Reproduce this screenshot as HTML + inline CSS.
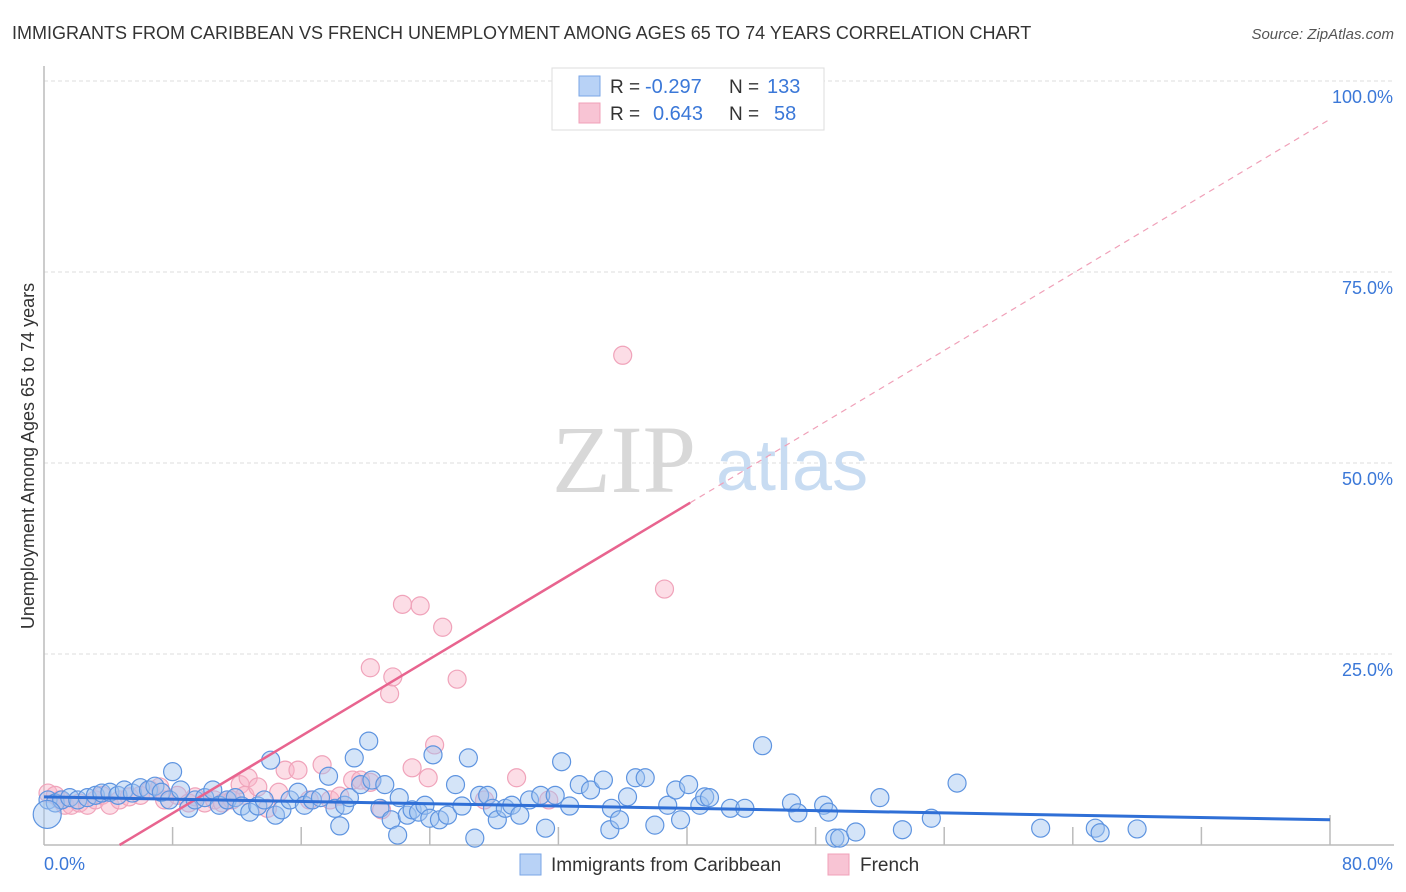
<!DOCTYPE html>
<html><head><meta charset="utf-8"><style>
body{margin:0;background:#fff;font-family:"Liberation Sans",sans-serif;}
#wrap{position:relative;width:1406px;height:892px;overflow:hidden;}
</style></head><body>
<div id="wrap">
<svg id="svg" width="1406" height="892" xmlns="http://www.w3.org/2000/svg"></svg>
</div>
<script>
const yTicks=[25,50,75,100];
const yTickLabels=["25.0%","50.0%","75.0%","100.0%"];
const xTickVals=[8,16,24,32,40,48,56,64,72,80];
const blueX=[0.25,0.7,1.1,1.6,2.1,2.7,3.2,3.6,4.1,4.6,5.0,5.5,6.0,6.5,6.9,7.3,7.8,8.0,8.5,9.0,9.4,10.0,10.5,10.9,11.4,11.9,12.3,12.8,13.3,13.7,14.1,14.4,14.8,15.3,15.8,16.2,16.7,17.2,17.7,18.1,18.4,18.7,19.0,19.3,19.7,20.2,20.4,20.9,21.2,21.6,22.0,22.1,22.6,22.9,23.3,23.7,24.0,24.2,24.6,25.1,25.6,26.0,26.4,26.8,27.1,27.6,27.9,28.2,28.7,29.1,29.6,30.2,30.9,31.2,31.8,32.2,32.7,33.3,34.0,34.8,35.2,35.3,35.8,36.3,36.8,37.4,38.0,38.8,39.3,39.6,40.1,40.8,41.1,41.4,42.7,43.6,44.7,46.5,46.9,48.5,48.8,49.2,49.5,50.5,52.0,53.4,55.2,56.8,62.0,65.4,65.7,68.0,0.2];
const blueY=[5.9,5.5,5.9,6.2,5.9,6.2,6.5,6.8,6.9,6.5,7.2,6.8,7.5,7.2,7.7,6.9,5.9,9.6,7.2,4.8,5.9,6.2,7.2,5.2,5.9,6.2,5.1,4.3,5.1,5.9,11.1,3.9,4.6,5.9,6.9,5.2,5.9,6.2,9.0,4.8,2.5,5.2,6.2,11.4,7.9,13.6,8.5,4.8,7.9,3.3,1.3,6.2,3.9,4.6,4.3,5.2,3.5,11.8,3.3,3.9,7.9,5.1,11.4,0.9,6.5,6.5,4.8,3.3,4.8,5.2,3.9,5.9,6.5,2.2,6.5,10.9,5.1,7.9,7.2,8.5,2.0,4.8,3.3,6.3,8.8,8.8,2.6,5.2,7.2,3.3,7.9,5.2,6.3,6.2,4.8,4.8,13.0,5.5,4.2,5.2,4.3,0.9,0.9,1.7,6.2,2.0,3.5,8.1,2.2,2.2,1.6,2.1,4.0];
const pinkX=[0.25,0.7,1.0,1.3,1.7,2.2,2.7,3.2,3.6,4.1,4.7,5.3,6.0,6.6,7.2,7.5,8.3,9.0,9.4,10.0,10.6,11.1,11.4,11.7,12.2,12.5,12.7,13.3,13.9,14.6,15.0,15.8,16.5,17.3,17.8,18.4,19.2,19.7,20.3,20.3,21.0,21.5,21.7,22.3,23.4,24.8,25.7,22.9,23.9,24.3,27.4,29.4,31.4,36.0,38.6,35.1,38.3];
const pinkY=[6.8,6.5,5.9,5.2,5.2,5.5,5.2,5.9,6.5,5.2,5.9,6.3,6.5,7.2,7.6,5.9,6.5,5.5,6.3,5.5,5.9,5.5,5.9,5.9,7.9,6.5,8.8,7.6,4.8,6.9,9.8,9.8,5.9,10.5,5.9,6.4,8.5,8.5,8.2,23.2,4.6,19.8,22.0,31.5,31.3,28.5,21.7,10.1,8.8,13.1,5.9,8.8,5.9,64.1,33.5,100,100];
const blueTrend=[6.3,3.3];
const pinkTrend=[[4.7,0],[40.2,44.8],[80,95]];

const NS="http://www.w3.org/2000/svg";
const svg=document.getElementById('svg');
const X0=44,X1=1330,Y0=845,Y1=81;
const sx=v=>X0+(v/80)*(X1-X0);
const sy=v=>Y0-(v/100)*(Y0-Y1);
function mk(tag,attrs,parent){const e=document.createElementNS(NS,tag);for(const k in attrs)e.setAttribute(k,attrs[k]);(parent||svg).appendChild(e);return e;}

// title
let t=mk('text',{x:12,y:39,'font-size':18,fill:'#333'});t.textContent="IMMIGRANTS FROM CARIBBEAN VS FRENCH UNEMPLOYMENT AMONG AGES 65 TO 74 YEARS CORRELATION CHART";


t=mk('text',{x:1394,y:39,'font-size':15,fill:'#555','font-style':'italic','text-anchor':'end'});t.textContent="Source: ZipAtlas.com";



// grid
yTicks.forEach((v,i)=>{
 const g=mk('line',{x1:X0,x2:1394,y1:sy(v),y2:sy(v),stroke:'#ddd','stroke-dasharray':'4,3'});
 
 
 const l=mk('text',{x:1393,y:sy(v)+22,'font-size':18,fill:'#3b78d8','text-anchor':'end'});l.textContent=yTickLabels[i];
 
 
});
// axes
let a=mk('line',{x1:X0,x2:X0,y1:66,y2:Y0,stroke:'#bbb','stroke-width':1.5});


a=mk('line',{x1:X0,x2:1394,y1:Y0,y2:Y0,stroke:'#bbb','stroke-width':1.5});


xTickVals.forEach(v=>{const k=mk('line',{x1:sx(v),x2:sx(v),y1:Y0,y2:Y0-(v===80?30:18),stroke:'#bbb','stroke-width':1.5});
 
 });
t=mk('text',{x:44,y:870,'font-size':18,fill:'#3b78d8'});t.textContent="0.0%";


t=mk('text',{x:1393,y:870,'font-size':18,fill:'#3b78d8','text-anchor':'end'});t.textContent="80.0%";


t=mk('text',{x:0,y:0,'font-size':18,fill:'#333','text-anchor':'middle',transform:'translate(34,456) rotate(-90)'});t.textContent="Unemployment Among Ages 65 to 74 years";



// watermark
t=mk('text',{x:552,y:492,'font-size':96,fill:'#d8d8d8','font-family':'Liberation Serif,serif'});t.textContent="ZIP";


t=mk('text',{x:716,y:490,'font-size':72,fill:'#c8dcf2'});t.textContent="atlas";



// points
for(let i=0;i<pinkX.length;i++){const c=mk('circle',{cx:sx(pinkX[i]),cy:sy(pinkY[i]),r:9,fill:'rgba(248,180,200,0.45)',stroke:'#f0a3ba','stroke-width':1.2});
 
 }
for(let i=0;i<blueX.length;i++){const c=mk('circle',{cx:sx(blueX[i]),cy:sy(blueY[i]),r:(i===blueX.length-1?14:9),fill:'rgba(160,196,240,0.45)',stroke:'#5e94e0','stroke-width':1.2});
 
 }

// trend lines
let ln=mk('line',{x1:sx(pinkTrend[0][0]),y1:sy(pinkTrend[0][1]),x2:sx(pinkTrend[1][0]),y2:sy(pinkTrend[1][1]),stroke:'#e8648f','stroke-width':2.5});


ln=mk('line',{x1:sx(pinkTrend[1][0]),y1:sy(pinkTrend[1][1]),x2:sx(pinkTrend[2][0]),y2:sy(pinkTrend[2][1]),stroke:'#f0a0b8','stroke-width':1.2,'stroke-dasharray':'6,5'});


ln=mk('line',{x1:sx(0),y1:sy(blueTrend[0]),x2:sx(80),y2:sy(blueTrend[1]),stroke:'#2f6fd6','stroke-width':3});



// legend box
const lg=mk('g',{});


mk('rect',{x:552,y:68,width:272,height:62,fill:'#fff',stroke:'#ddd'},lg);
mk('rect',{x:579,y:76,width:21,height:20,fill:'#b8d2f6',stroke:'#7aa6e6'},lg);
mk('rect',{x:579,y:103,width:21,height:20,fill:'#f8c4d4',stroke:'#f0a0b8'},lg);
[[93,"R = ","-0.297","N = ","133"],[120,"R = "," 0.643","N = ","58"]].forEach(r=>{
 let a1=mk('text',{x:610,y:r[0],'font-size':19,fill:'#333'},lg);a1.textContent=r[1];
 let a2=mk('text',{x:645,y:r[0],'font-size':20,fill:'#3b78d8'},lg);a2.textContent=r[2];
 if(r[2][0]===' ')a2.setAttribute('x',653),a2.textContent=r[2].trim();
 let a3=mk('text',{x:729,y:r[0],'font-size':19,fill:'#333'},lg);a3.textContent=r[3];
 let a4=mk('text',{x:r[4].length===3?767:774,y:r[0],'font-size':20,fill:'#3b78d8'},lg);a4.textContent=r[4];
});

// bottom legend
const bl=mk('g',{});


mk('rect',{x:520,y:854,width:21,height:21,fill:'#b8d2f6',stroke:'#7aa6e6'},bl);
t=mk('text',{x:551,y:871,'font-size':19,fill:'#333'},bl);t.textContent="Immigrants from Caribbean";


mk('rect',{x:828,y:854,width:21,height:21,fill:'#f8c4d4',stroke:'#f0a0b8'},bl);
t=mk('text',{x:860,y:871,'font-size':19,fill:'#333'},bl);t.textContent="French";


</script>
</body></html>
